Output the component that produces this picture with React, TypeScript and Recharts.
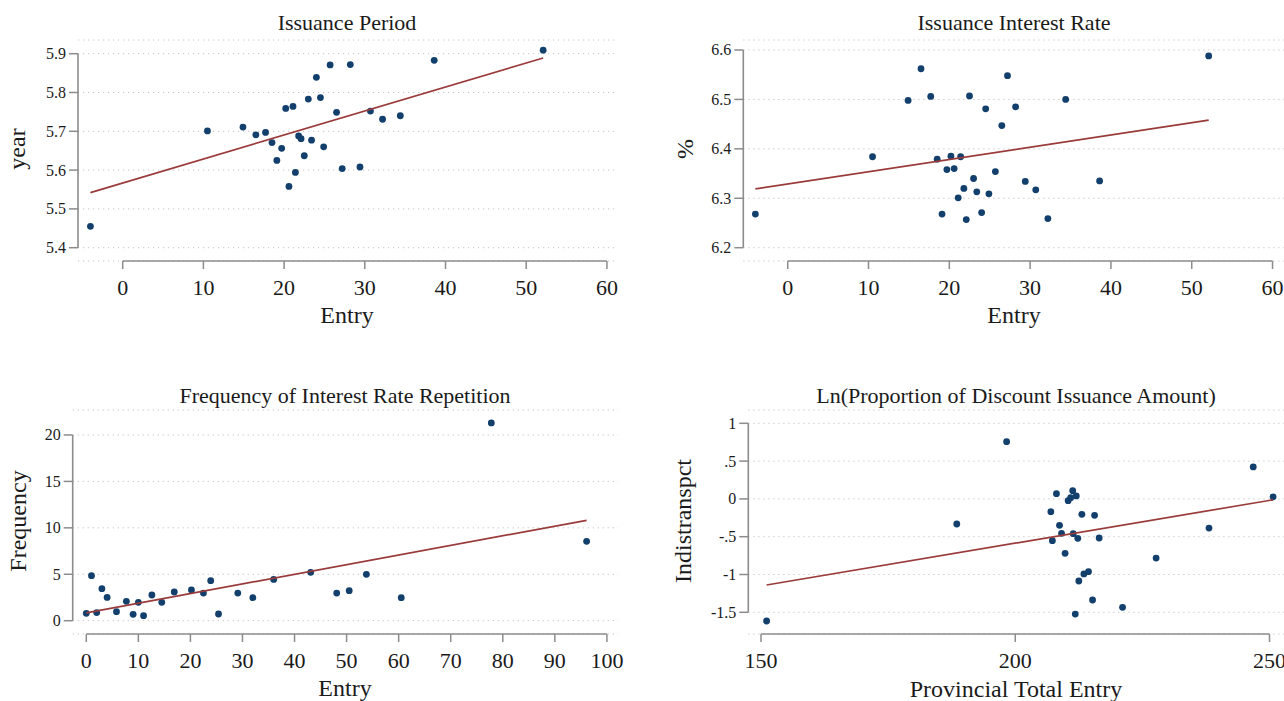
import React from 'react';
import { ScatterChart, Scatter, XAxis, YAxis, CartesianGrid, ReferenceLine } from 'recharts';

// ---------- data ----------
const entry = [-4.0, 10.5, 14.9, 16.5, 17.7, 18.5, 19.1, 19.7, 20.2, 20.6, 21.1, 21.4, 21.8, 22.1, 22.5, 23.0, 23.4, 24.0, 24.5, 24.9, 25.7, 26.5, 27.2, 28.2, 29.4, 30.7, 32.2, 34.4, 38.6, 52.1];
const periodY = [5.455, 5.701, 5.711, 5.691, 5.697, 5.671, 5.625, 5.656, 5.759, 5.558, 5.764, 5.594, 5.688, 5.681, 5.637, 5.783, 5.677, 5.839, 5.787, 5.660, 5.871, 5.749, 5.604, 5.872, 5.608, 5.752, 5.731, 5.740, 5.883, 5.909];
const rateY = [6.268, 6.384, 6.498, 6.562, 6.506, 6.379, 6.268, 6.358, 6.385, 6.360, 6.301, 6.384, 6.320, 6.257, 6.507, 6.340, 6.313, 6.271, 6.481, 6.309, 6.354, 6.447, 6.548, 6.485, 6.334, 6.317, 6.259, 6.500, 6.335, 6.588];
const periodFitX = [-4.0, 52.1];
const periodFitY = [5.542, 5.889];
const rateFitX = [-4.0, 52.1];
const rateFitY = [6.319, 6.458];

const freqX = [0, 1.0, 2.0, 3.0, 4.0, 5.8, 7.7, 9.0, 10.0, 11.0, 12.6, 14.5, 16.9, 20.2, 22.5, 23.9, 25.4, 29.1, 32.0, 36.0, 43.1, 48.1, 50.5, 53.8, 60.5, 77.8, 96.1];
const freqY = [0.79, 4.85, 0.87, 3.45, 2.51, 0.97, 2.09, 0.69, 1.98, 0.54, 2.77, 1.98, 3.09, 3.31, 2.98, 4.31, 0.72, 2.98, 2.48, 4.45, 5.21, 2.98, 3.23, 4.99, 2.48, 21.3, 8.55];
const freqFitX = [0, 96.1];
const freqFitY = [0.85, 10.81];

const provX = [151.1, 188.5, 198.3, 207.0, 207.3, 208.1, 208.7, 209.1, 209.8, 210.4, 210.9, 211.3, 211.4, 211.8, 212.0, 212.3, 212.5, 213.1, 213.5, 214.4, 215.2, 215.6, 216.5, 221.1, 227.7, 238.1, 246.8, 250.7];
const discY = [-1.615, -0.332, 0.757, -0.169, -0.552, 0.069, -0.350, -0.455, -0.720, -0.023, 0.016, 0.109, -0.460, -1.523, 0.039, -0.521, -1.086, -0.204, -0.993, -0.962, -1.337, -0.217, -0.517, -1.434, -0.783, -0.386, 0.423, 0.027];
const discFitX = [151.1, 250.7];
const discFitY = [-1.139, -0.012];

const entryTicks = [0, 10, 20, 30, 40, 50, 60];
const periodTicks = [5.4, 5.5, 5.6, 5.7, 5.8, 5.9];
const rateTicks = [6.2, 6.3, 6.4, 6.5, 6.6];
const freqXTicks = [0, 10, 20, 30, 40, 50, 60, 70, 80, 90, 100];
const freqYTicks = [0, 5, 10, 15, 20];
const provTicks = [150, 200, 250];
const discTicks = [-1.5, -1, -0.5, 0, 0.5, 1];

// ---------- styling ----------
const FONT = "'Liberation Serif', 'Times New Roman', Times, serif";
const NAVY = '#123f6c';
const MAROON = '#9a3b3b';
const AXIS = '#8c8c8c';
const TEXT = '#1a1a1a';

const toPts = (xs: number[], ys: number[]) => xs.map((x, i) => ({ x, y: ys[i] }));

const plainFmt = (v: number) => String(v);
const stataFmt = (v: number) => {
  if (v === 0) return '0';
  const s = String(Math.abs(v)).replace(/^0\./, '.');
  return (v < 0 ? '-' : '') + s;
};

type PanelProps = {
  left: number; top: number; width: number; height: number;
  margin: { top: number; right: number; bottom: number; left: number };
  xDomain: [number, number]; yDomain: [number, number];
  xTicks: number[]; yTicks: number[];
  points: { x: number; y: number }[];
  fit: { x: number; y: number }[];
  yFmt?: (v: number) => string;
};

const Dot = (p: any) => <circle cx={p.cx} cy={p.cy} r={3.4} fill={NAVY} />;
const NoDot = () => <g />;

const XTick = (p: any) => (
  <text x={p.x} y={p.y} dy="0.71em" textAnchor="middle" fontSize={22} fill={TEXT} style={{ fontFamily: FONT }}>
    {String(p.payload.value)}
  </text>
);

const makeYTick = (fmt: (v: number) => string) => (p: any) => (
  <text x={p.x} y={p.y} dy="0.34em" textAnchor="end" fontSize={16} fill={TEXT} style={{ fontFamily: FONT }}>
    {fmt(p.payload.value)}
  </text>
);

function Panel(props: PanelProps) {
  const { left, top, width, height, margin, xDomain, yDomain, xTicks, yTicks, points, fit, yFmt } = props;
  const YTick = makeYTick(yFmt || plainFmt);
  return (
    <div style={{ position: 'absolute', left, top, width, height, fontFamily: FONT }}>
      <ScatterChart width={width} height={height} margin={margin}>
        <CartesianGrid horizontal vertical={false} stroke="#c2c2c2" strokeDasharray="1.2 3.8" />
        <XAxis
          type="number" dataKey="x" domain={xDomain} ticks={xTicks} allowDataOverflow interval={0}
          axisLine={false} tickLine={{ stroke: AXIS, strokeWidth: 1.5 }} tickSize={8} tickMargin={10} height={40}
          tick={XTick}
        />
        <YAxis
          type="number" dataKey="y" domain={yDomain} ticks={yTicks} allowDataOverflow interval={0} width={60}
          axisLine={false} tickLine={{ stroke: AXIS, strokeWidth: 1.5 }} tickSize={9} tickMargin={3}
          tick={YTick}
        />
        <ReferenceLine
          segment={[{ x: xDomain[0], y: yTicks[0] }, { x: xDomain[0], y: yTicks[yTicks.length - 1] }]}
          stroke={AXIS} strokeWidth={1.6} ifOverflow="visible"
        />
        <ReferenceLine
          segment={[{ x: xTicks[0], y: yDomain[0] }, { x: xTicks[xTicks.length - 1], y: yDomain[0] }]}
          stroke={AXIS} strokeWidth={1.6} ifOverflow="visible"
        />
        <Scatter data={points} fill={NAVY} shape={Dot} isAnimationActive={false} />
        <Scatter data={fit} fill={MAROON} line={{ stroke: MAROON, strokeWidth: 1.7 }} shape={NoDot} isAnimationActive={false} />
      </ScatterChart>
    </div>
  );
}

export default function App() {
  const textStyle = { fontFamily: FONT, fill: TEXT } as const;
  return (
    <div style={{ position: 'absolute', left: 0, top: 0, width: 1284, height: 701, background: '#fff', overflow: 'hidden', fontFamily: FONT }}>
      <Panel
        left={0} top={0} width={642} height={350}
        margin={{ top: 40, right: 25, bottom: 49, left: 18 }}
        xDomain={[-5.54, 61.25]} yDomain={[5.3657, 5.9353]}
        xTicks={entryTicks} yTicks={periodTicks}
        points={toPts(entry, periodY)} fit={toPts(periodFitX, periodFitY)}
      />
      <Panel
        left={642} top={0} width={642} height={350}
        margin={{ top: 40, right: 0, bottom: 49, left: 41.3 }}
        xDomain={[-5.495, 61.42]} yDomain={[6.1731, 6.6202]}
        xTicks={entryTicks} yTicks={rateTicks}
        points={toPts(entry, rateY)} fit={toPts(rateFitX, rateFitY)}
      />
      <Panel
        left={0} top={370} width={642} height={331}
        margin={{ top: 40, right: 24, bottom: 27, left: 12.7 }}
        xDomain={[-2.61, 102.13]} yDomain={[-1.432, 22.69]}
        xTicks={freqXTicks} yTicks={freqYTicks}
        points={toPts(freqX, freqY)} fit={toPts(freqFitX, freqFitY)}
      />
      <Panel
        left={642} top={370} width={642} height={331}
        margin={{ top: 40, right: 0, bottom: 27, left: 46.3 }}
        xDomain={[147.5, 252.85]} yDomain={[-1.787, 1.176]}
        xTicks={provTicks} yTicks={discTicks}
        points={toPts(provX, discY)} fit={toPts(discFitX, discFitY)} yFmt={stataFmt}
      />
      <svg width={1284} height={701} style={{ position: 'absolute', left: 0, top: 0, pointerEvents: 'none' }}>
        <g style={textStyle} fontSize={22} textAnchor="middle">
          <text x={347} y={30}>Issuance Period</text>
          <text x={1014} y={30}>Issuance Interest Rate</text>
          <text x={345} y={403}>Frequency of Interest Rate Repetition</text>
          <text x={1016} y={403}>Ln(Proportion of Discount Issuance Amount)</text>
        </g>
        <g style={textStyle} fontSize={24} textAnchor="middle">
          <text x={347} y={323}>Entry</text>
          <text x={1014} y={323}>Entry</text>
          <text x={345} y={696}>Entry</text>
          <text x={1016} y={697}>Provincial Total Entry</text>
          <text transform="translate(25,149) rotate(-90)">year</text>
          <text transform="translate(693,149) rotate(-90)">%</text>
          <text transform="translate(26,521) rotate(-90)">Frequency</text>
          <text transform="translate(691,521) rotate(-90)">Indistranspct</text>
        </g>
      </svg>
    </div>
  );
}
